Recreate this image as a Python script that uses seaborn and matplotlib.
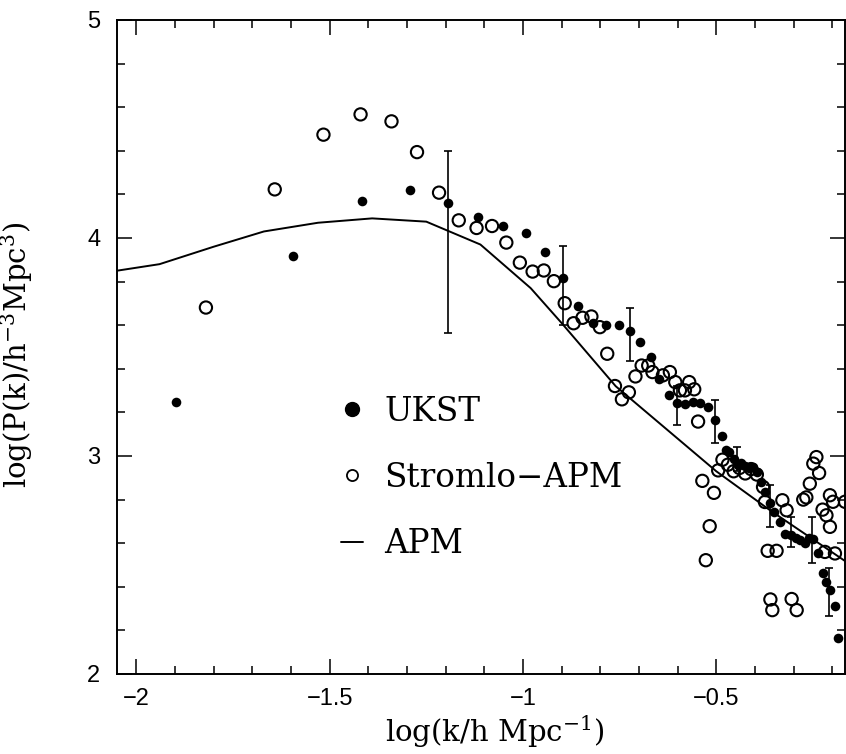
import numpy as np
import pandas as pd
import matplotlib
matplotlib.use("Agg")
import matplotlib.pyplot as plt
from matplotlib.lines import Line2D
from matplotlib.ticker import MultipleLocator
import seaborn as sns

# UKST (filled circles)
ukst_logk = [-1.898, -1.595, -1.416, -1.291, -1.195, -1.116, -1.051, -0.992, -0.942, -0.896,
             -0.857, -0.819, -0.786, -0.752, -0.723, -0.696, -0.669, -0.648, -0.622, -0.601,
             -0.580, -0.559, -0.541, -0.522, -0.504, -0.486, -0.475, -0.467, -0.455, -0.445,
             -0.435, -0.425, -0.415, -0.405, -0.395, -0.383, -0.373, -0.361, -0.351, -0.336,
             -0.323, -0.306, -0.295, -0.284, -0.271, -0.260, -0.249, -0.236, -0.225, -0.215,
             -0.206, -0.193, -0.185]
ukst_logp = [3.246, 3.919, 4.168, 4.220, 4.159, 4.098, 4.057, 4.025, 3.938, 3.817,
             3.687, 3.609, 3.600, 3.600, 3.574, 3.525, 3.455, 3.353, 3.281, 3.243,
             3.240, 3.250, 3.245, 3.225, 3.167, 3.093, 3.026, 3.018, 2.985, 2.960,
             2.970, 2.955, 2.945, 2.950, 2.925, 2.880, 2.835, 2.785, 2.744, 2.698,
             2.644, 2.637, 2.625, 2.614, 2.599, 2.625, 2.617, 2.553, 2.464, 2.423,
             2.385, 2.311, 2.164]

# UKST error bars (low / high ends)
err_logk = [-1.195, -0.896, -0.723, -0.601, -0.504, -0.447, -0.361, -0.306, -0.252, -0.208]
err_lo = [3.565, 3.599, 3.438, 3.141, 3.060, 2.930, 2.675, 2.583, 2.510, 2.266]
err_hi = [4.397, 3.965, 3.680, 3.323, 3.258, 3.040, 2.866, 2.720, 2.720, 2.484]

# Stromlo-APM (open circles)
strom_logk = [-1.820, -1.642, -1.516, -1.420, -1.340, -1.274, -1.217, -1.166, -1.120, -1.080,
              -1.043, -1.008, -0.975, -0.946, -0.920, -0.892, -0.869, -0.846, -0.823, -0.801,
              -0.782, -0.762, -0.744, -0.726, -0.709, -0.693, -0.676, -0.665, -0.638, -0.620,
              -0.606, -0.594, -0.581, -0.570, -0.557, -0.547, -0.536, -0.527, -0.517, -0.506,
              -0.495, -0.484, -0.470, -0.455, -0.440, -0.425, -0.410, -0.395, -0.379, -0.374,
              -0.367, -0.360, -0.355, -0.344, -0.329, -0.318, -0.305, -0.292, -0.275, -0.267,
              -0.258, -0.249, -0.241, -0.234, -0.225, -0.219, -0.215, -0.206, -0.206, -0.198,
              -0.193, -0.167]
strom_logp = [3.681, 4.223, 4.474, 4.567, 4.535, 4.394, 4.208, 4.081, 4.046, 4.055,
              3.979, 3.887, 3.846, 3.851, 3.802, 3.701, 3.609, 3.634, 3.640, 3.591,
              3.469, 3.321, 3.260, 3.292, 3.365, 3.415, 3.415, 3.385, 3.370, 3.385,
              3.339, 3.301, 3.301, 3.339, 3.306, 3.158, 2.886, 2.522, 2.678, 2.831,
              2.934, 2.983, 2.960, 2.930, 2.945, 2.920, 2.940, 2.915, 2.858, 2.789,
              2.565, 2.342, 2.293, 2.565, 2.797, 2.751, 2.344, 2.293, 2.800, 2.810,
              2.873, 2.965, 2.995, 2.922, 2.754, 2.560, 2.728, 2.820, 2.675, 2.790,
              2.553, 2.790]

# APM (solid line)
apm_logk = [-2.05, -1.94, -1.80, -1.67, -1.53, -1.39, -1.25, -1.19, -1.11, -0.98,
            -0.90, -0.76, -0.63, -0.50, -0.36, -0.16]
apm_logp = [3.85, 3.88, 3.96, 4.03, 4.07, 4.09, 4.075, 4.03, 3.97, 3.77,
            3.61, 3.32, 3.125, 2.93, 2.75, 2.51]

sns.set_theme(style="ticks")
plt.rcParams["font.family"] = ["DejaVu Serif"]
plt.rcParams["mathtext.fontset"] = "custom"
plt.rcParams["mathtext.rm"] = "DejaVu Serif"
plt.rcParams["mathtext.default"] = "regular"
plt.rcParams["text.color"] = "black"

fig = plt.figure(figsize=(8.46, 7.54), dpi=100)
ax = fig.add_axes([117 / 846, 80 / 754, 728 / 846, 654 / 754])

sns.lineplot(x=apm_logk, y=apm_logp, ax=ax, color="black", lw=1.4,
             sort=False, estimator=None)
sns.scatterplot(x=strom_logk, y=strom_logp, ax=ax, s=78, facecolor="none",
                edgecolor="black", linewidth=1.5, zorder=3)
sns.scatterplot(x=ukst_logk, y=ukst_logp, ax=ax, s=48, color="black",
                edgecolor="black", linewidth=0, zorder=4)

mid = (np.array(err_lo) + np.array(err_hi)) / 2
half = (np.array(err_hi) - np.array(err_lo)) / 2
ax.errorbar(err_logk, mid, yerr=half, fmt="none", ecolor="black",
            elinewidth=1.2, capsize=3, capthick=1.2, zorder=5)

ax.set_xlim(-2.05, -0.167)
ax.set_ylim(2, 5)
ax.xaxis.set_major_locator(MultipleLocator(0.5))
ax.xaxis.set_minor_locator(MultipleLocator(0.1))
ax.yaxis.set_major_locator(MultipleLocator(1))
ax.yaxis.set_minor_locator(MultipleLocator(0.2))
ax.set_xticks([-2, -1.5, -1, -0.5])
ax.set_xticklabels(["\u22122", "\u22121.5", "\u22121", "\u22120.5"])
ax.set_yticks([2, 3, 4, 5])
ax.set_yticklabels(["2", "3", "4", "5"])
ax.tick_params(which="both", direction="in", top=True, right=True,
               color="black", width=1.1)
ax.tick_params(which="major", length=11)
ax.tick_params(which="minor", length=5.5)
ax.tick_params(axis="x", which="major", pad=10)
ax.tick_params(axis="y", which="major", pad=12)
for lab in ax.get_xticklabels() + ax.get_yticklabels():
    lab.set_family("Liberation Sans")
    lab.set_fontsize(17)
    lab.set_color("black")
for sp in ax.spines.values():
    sp.set_visible(True)
    sp.set_linewidth(1.4)
    sp.set_color("black")

ax.set_xlabel("log(k/h Mpc$^{-1}$)", fontsize=21, color="black")
ax.set_ylabel("log(P(k)/h$^{-3}$Mpc$^{3}$)", fontsize=21, color="black")
ax.xaxis.set_label_coords(0.519, -0.060)
ax.yaxis.set_label_coords(-0.112, 0.488)

handles = [
    Line2D([], [], ls="none", marker="o", ms=10, mfc="black", mec="black"),
    Line2D([], [], ls="none", marker="o", ms=8, mfc="none", mec="black", mew=1.3),
    Line2D([], [], color="black", lw=1.4),
]
ax.legend(handles, ["UKST", "Stromlo\u2212APM", "APM"], loc="upper left",
          bbox_to_anchor=(0.308, 0.4257), frameon=False, fontsize=23.5,
          labelcolor="black", handlelength=0.66, handletextpad=0.66,
          labelspacing=1.05, borderpad=0, borderaxespad=0)

fig.savefig("out.png", dpi=100, facecolor="white")
